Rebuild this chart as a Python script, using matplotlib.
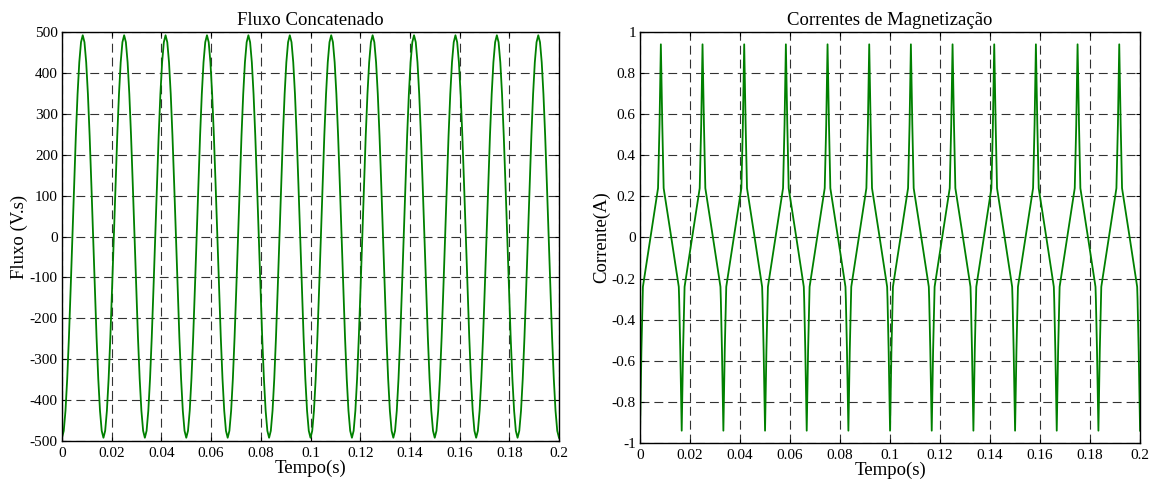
import matplotlib
matplotlib.use("Agg")
import matplotlib.pyplot as plt
import numpy as np
from matplotlib.ticker import FormatStrFormatter

plt.rcParams["font.family"] = ["Liberation Serif", "DejaVu Serif"]
plt.rcParams["axes.unicode_minus"] = False

# one period of the waveforms (60 Hz, 12 periods in 0.2 s)
period = 1 / 60
n_cycles = 12

# flux over one period, sampled every 1/24 period
flux_cycle_ms = [0.0, 0.694, 1.389, 2.083, 2.778, 3.472, 4.167, 4.861, 5.556,
                 6.250, 6.944, 7.639, 8.333, 9.028, 9.722, 10.417, 11.111,
                 11.806, 12.500, 13.194, 13.889, 14.583, 15.278, 15.972]
flux_cycle = [-492, -475, -426, -348, -246, -127, 0, 127, 246, 348, 426, 475,
              492, 475, 426, 348, 246, 127, 0, -127, -246, -348, -426, -475]

# magnetising current over one period (knees and spikes)
cur_cycle_ms = [0.0, 0.55, 1.0, 1.15, 4.17, 7.2, 7.8, 8.33, 8.9, 9.45, 12.5,
                15.5, 15.65, 16.1]
cur_cycle = [-0.94, -0.55, -0.30, -0.24, 0.0, 0.24, 0.55, 0.94, 0.55, 0.24,
             0.0, -0.24, -0.30, -0.55]

x_ticks = [0, 0.02, 0.04, 0.06, 0.08, 0.1, 0.12, 0.14, 0.16, 0.18, 0.2]
flux_ticks = [-500, -400, -300, -200, -100, 0, 100, 200, 300, 400, 500]
cur_ticks = [-1, -0.8, -0.6, -0.4, -0.2, 0, 0.2, 0.4, 0.6, 0.8, 1]


def repeat(ms, vals, end_val):
    t = np.concatenate([np.array(ms) / 1000 + k * period for k in range(n_cycles)])
    v = np.tile(vals, n_cycles)
    return np.append(t, n_cycles * period), np.append(v, end_val)


t_flux, flux = repeat(flux_cycle_ms, flux_cycle, flux_cycle[0])
t_cur, cur = repeat(cur_cycle_ms, cur_cycle, cur_cycle[0])

fig = plt.figure(figsize=(11.53, 4.84), dpi=100, facecolor="white")
ax1 = fig.add_axes([0.0538, 0.0888, 0.4310, 0.8451])
ax2 = fig.add_axes([0.5551, 0.0847, 0.4337, 0.8492])

green = "#008000"
for ax, t, y, ticks, title, ylabel in [
    (ax1, t_flux, flux, flux_ticks, "Fluxo Concatenado", "Fluxo (V.s)"),
    (ax2, t_cur, cur, cur_ticks, "Correntes de Magnetização", "Corrente(A)"),
]:
    ax.plot(t, y, color=green, lw=1.3)
    ax.set_xlim(0, 0.2)
    ax.set_ylim(ticks[0], ticks[-1])
    ax.set_xticks(x_ticks)
    ax.set_yticks(ticks)
    ax.xaxis.set_major_formatter(FormatStrFormatter("%g"))
    ax.yaxis.set_major_formatter(FormatStrFormatter("%g"))
    ax.grid(True, color="0.2", linestyle=(0, (8, 4.5)), lw=0.8)
    ax.tick_params(direction="in", top=True, right=True, labelsize=11,
                   length=3, pad=3)
    ax.tick_params(axis="x", pad=4)
    for s in ax.spines.values():
        s.set_linewidth(1.0)
    ax.set_title(title, fontsize=13.5, pad=5)
    ax.set_xlabel("Tempo(s)", fontsize=13.5, labelpad=0)
    ax.set_ylabel(ylabel, fontsize=13.5, labelpad=1)

fig.savefig("out.png", dpi=100, facecolor="white")
